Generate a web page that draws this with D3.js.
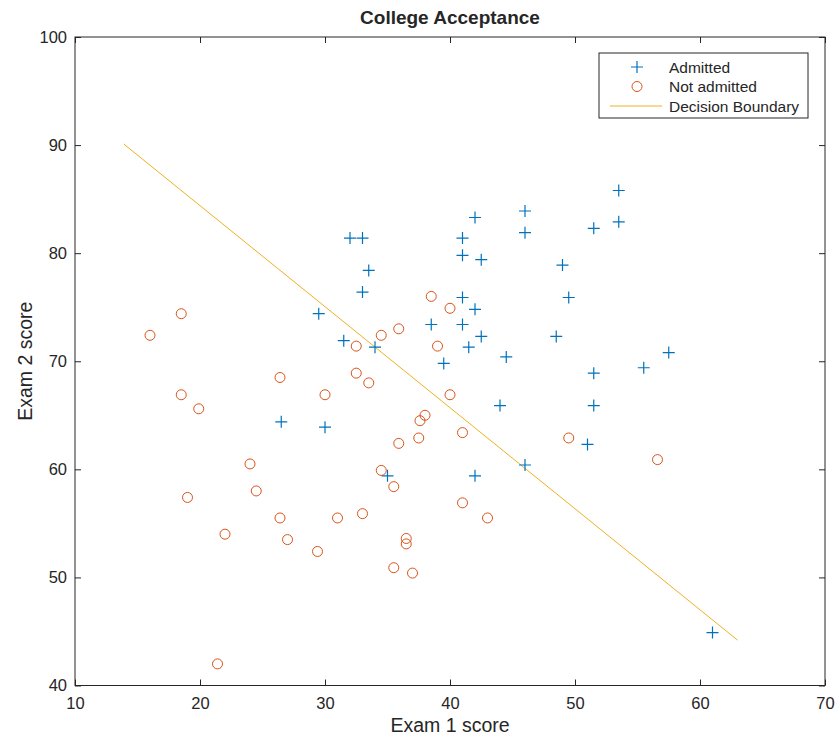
<!DOCTYPE html>
<html>
<head>
<meta charset="utf-8">
<script src="https://cdn.jsdelivr.net/npm/d3@7"></script>
<style>
  body { margin: 0; background: #fff; }
  svg text { font-family: "Liberation Sans", Arial, sans-serif; fill: #262626; }
</style>
</head>
<body>
<script>
// exam scores
var admittedX = [53.5, 53.5, 51.5, 46, 46, 42, 41, 41, 42.5, 49, 49.5, 41, 42, 38.5, 41,
  42.5, 48.5, 41.5, 39.5, 44.5, 57.5, 55.5, 51.5, 51.5, 44, 51, 46, 42, 35, 32, 33,
  33.5, 33, 29.5, 31.5, 34, 26.5, 30, 61];
var admittedY = [85.8, 82.9, 82.3, 83.9, 81.9, 83.3, 81.4, 79.8, 79.4, 78.9, 75.9, 75.9, 74.8, 73.4, 73.4,
  72.3, 72.3, 71.3, 69.8, 70.4, 70.8, 69.4, 68.9, 65.9, 65.9, 62.3, 60.4, 59.4, 59.4, 81.4, 81.4,
  78.4, 76.4, 74.4, 71.9, 71.3, 64.4, 63.9, 44.9];

var rejectedX = [18.5, 16, 32.5, 34.5, 35.9, 26.4, 32.5, 33.5, 18.5, 19.9, 30, 38.5, 40, 39, 40,
  37.6, 38, 41, 24, 24.5, 19, 22, 26.4, 27, 29.4, 31, 33, 34.5, 35.5, 36.5, 36.5, 35.5,
  37, 37.5, 35.9, 41, 43, 21.4, 49.5, 56.6];
var rejectedY = [74.4, 72.4, 71.4, 72.4, 73, 68.5, 68.9, 68, 66.9, 65.6, 66.9, 76, 74.9, 71.4, 66.9,
  64.5, 65, 63.4, 60.5, 58, 57.4, 54, 55.5, 53.5, 52.4, 55.5, 55.9, 59.9, 58.4, 53.6, 53.1, 50.9,
  50.4, 62.9, 62.4, 56.9, 55.5, 42, 62.9, 60.9];

var boundaryX = [13.9, 63];
var boundaryY = [90.1, 44.2];

var xTicks = [10, 20, 30, 40, 50, 60, 70];
var yTicks = [40, 50, 60, 70, 80, 90, 100];

var legendLabels = ['Admitted', 'Not admitted', 'Decision Boundary'];

var blue = '#0072BD';
var red = '#D95319';
var gold = '#EDB120';
var axisColor = '#262626';

var width = 836;
var height = 740;
var plotLeft = 75, plotRight = 825, plotTop = 37, plotBottom = 685.5;

var x = d3.scaleLinear().domain([10, 70]).range([plotLeft, plotRight]);
var y = d3.scaleLinear().domain([40, 100]).range([plotBottom, plotTop]);

var svg = d3.select('body').append('svg')
  .attr('width', width)
  .attr('height', height);

// boundary line
svg.append('path')
  .datum(d3.zip(boundaryX, boundaryY))
  .attr('fill', 'none')
  .attr('stroke', gold)
  .attr('stroke-width', 1)
  .attr('d', d3.line().x(function(d) { return x(d[0]); }).y(function(d) { return y(d[1]); }));

// admitted: plus markers
svg.append('g').selectAll('path')
  .data(d3.zip(admittedX, admittedY))
  .enter().append('path')
    .attr('fill', 'none')
    .attr('stroke', blue)
    .attr('stroke-width', 1.2)
    .attr('d', function(d) {
      var cx = x(d[0]), cy = y(d[1]);
      return 'M' + (cx - 6) + ',' + cy + 'H' + (cx + 6) + 'M' + cx + ',' + (cy - 6) + 'V' + (cy + 6);
    });

// not admitted: open circles
svg.append('g').selectAll('circle')
  .data(d3.zip(rejectedX, rejectedY))
  .enter().append('circle')
    .attr('cx', function(d) { return x(d[0]); })
    .attr('cy', function(d) { return y(d[1]); })
    .attr('r', 5)
    .attr('fill', 'none')
    .attr('stroke', red)
    .attr('stroke-width', 1);

// axes, MATLAB-style box with inward ticks
function styleAxis(g) {
  g.select('.domain').remove();
  g.selectAll('line').attr('stroke', axisColor);
  g.selectAll('text').attr('font-size', 16.5).attr('fill', axisColor);
}

svg.append('g')
  .attr('transform', 'translate(0,' + plotBottom + ')')
  .call(d3.axisBottom(x).tickValues(xTicks).tickSizeInner(-6).tickSizeOuter(0).tickPadding(12))
  .call(styleAxis);

svg.append('g')
  .attr('transform', 'translate(0,' + plotTop + ')')
  .call(d3.axisTop(x).tickValues(xTicks).tickSizeInner(-6).tickSizeOuter(0).tickFormat(''))
  .call(styleAxis);

svg.append('g')
  .attr('transform', 'translate(' + plotLeft + ',0)')
  .call(d3.axisLeft(y).tickValues(yTicks).tickSizeInner(-6).tickSizeOuter(0).tickPadding(8))
  .call(styleAxis);

svg.append('g')
  .attr('transform', 'translate(' + plotRight + ',0)')
  .call(d3.axisRight(y).tickValues(yTicks).tickSizeInner(-6).tickSizeOuter(0).tickFormat(''))
  .call(styleAxis);

svg.append('rect')
  .attr('x', plotLeft).attr('y', plotTop)
  .attr('width', plotRight - plotLeft).attr('height', plotBottom - plotTop)
  .attr('fill', 'none')
  .attr('stroke', axisColor)
  .attr('stroke-width', 1);

// titles
svg.append('text')
  .attr('x', (plotLeft + plotRight) / 2).attr('y', 24)
  .attr('text-anchor', 'middle')
  .attr('font-size', 19).attr('font-weight', 'bold')
  .text('College Acceptance');

svg.append('text')
  .attr('x', (plotLeft + plotRight) / 2).attr('y', 732)
  .attr('text-anchor', 'middle')
  .attr('font-size', 19.5)
  .text('Exam 1 score');

svg.append('text')
  .attr('transform', 'translate(32,' + ((plotTop + plotBottom) / 2) + ') rotate(-90)')
  .attr('text-anchor', 'middle')
  .attr('font-size', 19.5)
  .text('Exam 2 score');

// legend
var legend = svg.append('g').attr('transform', 'translate(599,53)');
legend.append('rect')
  .attr('width', 209).attr('height', 65)
  .attr('fill', '#fff')
  .attr('stroke', axisColor)
  .attr('stroke-width', 1);

var rows = legend.selectAll('g.row')
  .data(legendLabels)
  .enter().append('g')
    .attr('class', 'row')
    .attr('transform', function(d, i) { return 'translate(0,' + (14 + i * 19.5) + ')'; });

rows.append('text')
  .attr('x', 70).attr('y', 5.5)
  .attr('font-size', 15.5)
  .text(function(d) { return d; });

rows.filter(function(d, i) { return i === 0; }).append('path')
  .attr('d', 'M32,0H44M38,-6V6')
  .attr('stroke', blue).attr('stroke-width', 1.2);

rows.filter(function(d, i) { return i === 1; }).append('circle')
  .attr('cx', 38).attr('r', 5)
  .attr('fill', 'none').attr('stroke', red);

rows.filter(function(d, i) { return i === 2; }).append('line')
  .attr('x1', 11).attr('x2', 63)
  .attr('stroke', gold).attr('stroke-width', 1);
</script>
</body>
</html>
